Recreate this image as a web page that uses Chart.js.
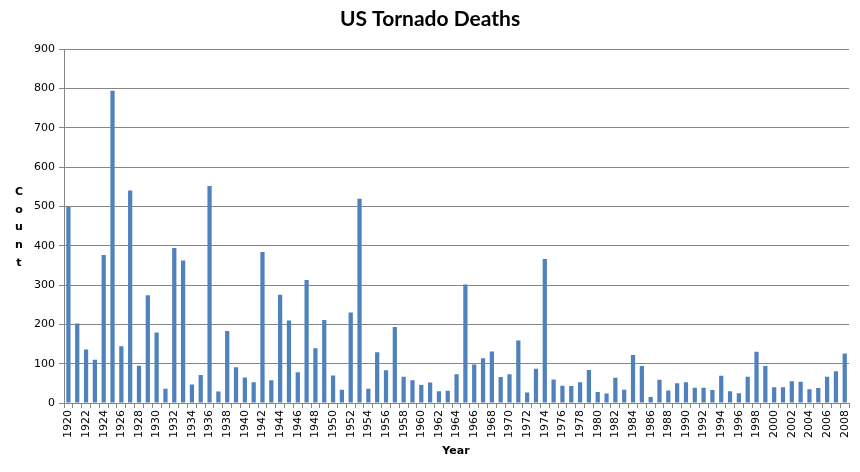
<!DOCTYPE html>
<html>
<head>
<meta charset="utf-8">
<script src="https://cdn.jsdelivr.net/npm/chart.js@4"></script>
<style>
html,body{margin:0;padding:0;background:#fff;}
#wrap{width:860px;height:472px;position:relative;}
</style>
</head>
<body>
<div id="wrap"><canvas id="c" width="860" height="472"></canvas></div>
<script>
const chartTitle = "US Tornado Deaths";
const xTitle = "Year";
const yTitle = "Count";
const years = [];
for (let y = 1920; y <= 2008; y++) years.push(String(y));
const deaths = [
  498, 202, 136, 110, 376, 794, 144, 540, 95, 274,
  179, 36, 394, 362, 47, 71, 552, 29, 183, 91,
  65, 53, 384, 58, 275, 210, 78, 313, 139, 211,
  70, 34, 230, 519, 36, 129, 83, 193, 67, 58,
  46, 52, 30, 31, 73, 301, 98, 114, 131, 66,
  73, 159, 27, 87, 366, 60, 44, 43, 53, 84,
  28, 24, 64, 34, 122, 94, 15, 59, 32, 50,
  53, 39, 39, 33, 69, 30, 25, 67, 130, 94,
  40, 40, 55, 54, 35, 38, 67, 81, 126
];
const yTicks = [0,100,200,300,400,500,600,700,800,900];

const textPlugin = {
  id: 'texts',
  afterDraw(chart) {
    const ctx = chart.ctx;
    ctx.save();
    ctx.fillStyle = '#000';
    ctx.textAlign = 'center';
    ctx.textBaseline = 'middle';
    ctx.font = 'bold 21px Lato';
    ctx.fillText(chartTitle, 430, 19);
    ctx.font = 'bold 11px "DejaVu Sans"';
    ctx.fillText(xTitle, 456, 451);
    const letters = yTitle.split('');
    letters.forEach((ch, i) => ctx.fillText(ch, 19, 192 + i * 17.8));
    ctx.restore();
  }
};

new Chart(document.getElementById('c'), {
  type: 'bar',
  data: {
    labels: years,
    datasets: [{
      data: deaths,
      backgroundColor: '#4F81BD',
      borderWidth: 0,
      barPercentage: 0.48,
      categoryPercentage: 1.0
    }]
  },
  options: {
    responsive: false,
    animation: false,
    layout: { padding: { top: 49, right: 10, left: 0, bottom: 0 } },
    plugins: { legend: { display: false }, title: { display: false }, tooltip: { enabled: false } },
    scales: {
      x: {
        grid: { display: true, drawOnChartArea: false, drawTicks: true, tickLength: 5, color: '#868686', offset: true },
        border: { display: true, color: '#868686' },
        ticks: {
          autoSkip: false, maxRotation: 90, minRotation: 90,
          color: '#000', font: { family: 'DejaVu Sans', size: 11 }, padding: 2,
          callback: function(v, i) { return i % 2 === 0 ? years[i] : ''; }
        },
        afterFit(scale) { scale.height = 69; }
      },
      y: {
        min: 0, max: 900,
        afterBuildTicks(scale) { scale.ticks = yTicks.map(v => ({ value: v })); },
        grid: { color: '#868686', tickLength: 5, drawTicks: true },
        border: { display: true, color: '#868686' },
        ticks: { color: '#000', font: { family: 'DejaVu Sans', size: 11 }, padding: 4 },
        afterFit(scale) { scale.width = 64; }
      }
    }
  },
  plugins: [textPlugin]
});
</script>
</body>
</html>
